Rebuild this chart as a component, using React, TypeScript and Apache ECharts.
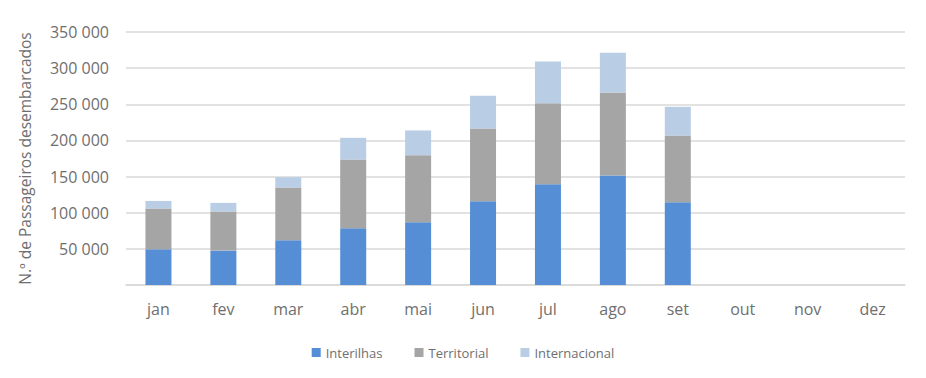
import React, { useEffect, useRef } from "react";
import * as echarts from "echarts";

const months = ["jan", "fev", "mar", "abr", "mai", "jun", "jul", "ago", "set", "out", "nov", "dez"];
const interilhas = [49400, 47600, 61900, 78500, 86800, 115900, 139400, 151400, 114500, null, null, null];
const territorial = [56300, 54000, 72900, 95100, 92800, 100600, 112200, 115000, 92300, null, null, null];
const internacional = [10600, 12000, 14300, 30000, 34200, 45300, 57700, 54900, 39700, null, null, null];
const seriesNames = ["Interilhas", "Territorial", "Internacional"];
const colors = ["#558ed5", "#a5a5a5", "#b9cde5"];

const FONT = "'Open Sans', 'Noto Sans', sans-serif";
const TXT = "#6f6f6f";

export default function App() {
  const ref = useRef<HTMLDivElement>(null);
  useEffect(() => {
    if (!ref.current) return;
    const chart = echarts.init(ref.current, null, { renderer: "svg" });
    const data = [interilhas, territorial, internacional];
    chart.setOption({
      animation: false,
      color: colors,
      textStyle: { fontFamily: FONT },
      grid: { left: 126, right: 21, top: 32, bottom: 93, containLabel: false },
      legend: {
        bottom: 14,
        left: "center",
        itemWidth: 9,
        itemHeight: 9,
        itemGap: 32,
        icon: "rect",
        textStyle: { color: TXT, fontSize: 13, fontFamily: FONT },
        data: seriesNames,
      },
      xAxis: {
        type: "category",
        data: months,
        axisLine: { show: true, lineStyle: { color: "#d9d9d9", width: 1.5 } },
        axisTick: { show: false },
        axisLabel: { color: TXT, fontSize: 16, margin: 16, fontFamily: FONT },
      },
      yAxis: {
        type: "value",
        min: 0,
        max: 350000,
        interval: 50000,
        name: "N.º de Passageiros desembarcados",
        nameLocation: "middle",
        nameGap: 93,
        nameTextStyle: { color: TXT, fontSize: 15.5, fontFamily: FONT },
        axisLine: { show: false },
        axisTick: { show: false },
        splitLine: { lineStyle: { color: "#d9d9d9", width: 1.5 } },
        axisLabel: {
          color: TXT,
          fontSize: 16,
          margin: 17,
          fontFamily: FONT,
          formatter: (v: number) =>
            v === 0 ? "" : String(v).replace(/\B(?=(\d{3})+(?!\d))/g, " "),
        },
      },
      series: seriesNames.map((name, i) => ({
        name,
        type: "bar",
        stack: "total",
        barWidth: 26,
        data: data[i],
        itemStyle: { color: colors[i] },
      })),
    });
    return () => chart.dispose();
  }, []);
  return <div ref={ref} style={{ width: 926, height: 378, margin: -8 }} />;
}
